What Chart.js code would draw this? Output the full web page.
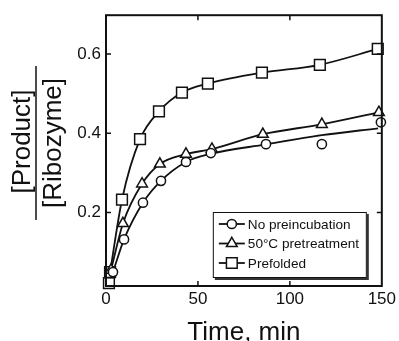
<!DOCTYPE html>
<html>
<head>
<meta charset="utf-8">
<script src="https://cdn.jsdelivr.net/npm/chart.js@4.4.0/dist/chart.umd.min.js"></script>
<style>
  html, body { margin: 0; padding: 0; background: #fff; }
  canvas { display: block; }
</style>
</head>
<body>
<canvas id="kineticsChart" width="399" height="341"></canvas>
<script>
const seriesNames = ['No preincubation', '50°C pretreatment', 'Prefolded'];

// No preincubation (circles) + its fitted curve
const noPreTime = [3.8, 9.8, 20.1, 29.9, 43.5, 57, 87, 117.4, 149.5];
const noPreValue = [0.05, 0.1325, 0.225, 0.28, 0.3275, 0.35, 0.3725, 0.3725, 0.4275];
const noPreFitTime = [3.8, 9.8, 20.1, 29.9, 43.5, 57, 87, 117.4, 148];
const noPreFitValue = [0.05, 0.1325, 0.225, 0.28, 0.3275, 0.348, 0.372, 0.395, 0.4125];

// 50°C pretreatment (triangles)
const heatTime = [2.7, 9.2, 19.6, 29.3, 43.5, 57.6, 85.3, 117.4, 148.4];
const heatValue = [0.055, 0.1725, 0.2725, 0.3225, 0.3475, 0.36, 0.3975, 0.4225, 0.4525];

// Prefolded (squares)
const foldTime = [1.6, 2.2, 8.7, 18.5, 28.8, 41.3, 55.4, 84.8, 116.3, 147.8];
const foldValue = [0.0225, 0.05, 0.2325, 0.385, 0.455, 0.5025, 0.525, 0.5525, 0.5725, 0.6125];

const xTicks = [0, 50, 100, 150];
const yTicks = [0.2, 0.4, 0.6];

const ink = '#111';
const fontFamily = "Arial, 'Liberation Sans', Helvetica, sans-serif";

function pts(xs, ys) {
    return xs.map((x, i) => ({ x: x, y: ys[i] }));
}

function markerSet(data, style, radius) {
    return {
        type: 'scatter',
        data: data,
        showLine: false,
        pointStyle: style,
        pointRadius: radius,
        pointBorderWidth: 1.5,
        pointBorderColor: ink,
        pointBackgroundColor: '#fff',
        clip: false,
        order: 1
    };
}

function curveSet(data) {
    return {
        type: 'line',
        data: data,
        borderColor: ink,
        borderWidth: 1.8,
        pointRadius: 0,
        fill: false,
        cubicInterpolationMode: 'monotone',
        clip: false,
        order: 2
    };
}

const markerStyles = ['circle', 'triangle', 'rect'];
const markerSizes = [4.6, 6.2, 7.6];

// draw one marker by hand (legend)
function drawMarker(ctx, style, x, y, r) {
    ctx.beginPath();
    if (style === 'circle') {
        ctx.arc(x, y, r, 0, Math.PI * 2);
    } else if (style === 'triangle') {
        for (let k = 0; k < 3; k++) {
            const a = k * 2 * Math.PI / 3;
            const px = x + Math.sin(a) * r, py = y - Math.cos(a) * r;
            if (k === 0) ctx.moveTo(px, py); else ctx.lineTo(px, py);
        }
        ctx.closePath();
    } else {
        const s = r * Math.SQRT1_2;
        ctx.rect(x - s, y - s, 2 * s, 2 * s);
    }
    ctx.fillStyle = '#fff';
    ctx.fill();
    ctx.lineWidth = 1.5;
    ctx.strokeStyle = ink;
    ctx.stroke();
}

const framePlugin = {
    id: 'frame',
    afterDraw(chart) {
        const ctx = chart.ctx;
        const a = chart.chartArea;
        const xs = chart.scales.x, ys = chart.scales.y;
        ctx.save();
        ctx.strokeStyle = ink;
        ctx.lineWidth = 2;
        ctx.strokeRect(a.left, a.top, a.right - a.left, a.bottom - a.top);
        ctx.lineWidth = 1.5;
        const len = 5;
        ctx.beginPath();
        xTicks.forEach(v => {
            const px = xs.getPixelForValue(v);
            if (px <= a.left + 2 || px >= a.right - 2) return;
            ctx.moveTo(px, a.bottom); ctx.lineTo(px, a.bottom - len);
            ctx.moveTo(px, a.top); ctx.lineTo(px, a.top + len);
        });
        yTicks.forEach(v => {
            const py = ys.getPixelForValue(v);
            ctx.moveTo(a.left, py); ctx.lineTo(a.left + len, py);
            ctx.moveTo(a.right, py); ctx.lineTo(a.right - len, py);
        });
        ctx.stroke();

        // legend box, bottom right inside the plot
        const bw = 154, bh = 66;
        const bx = a.right - 15 - bw, by = a.bottom - 8 - bh;
        ctx.fillStyle = '#333';
        ctx.fillRect(bx + 2, by + 2, bw, bh);
        ctx.fillStyle = '#fff';
        ctx.fillRect(bx, by, bw, bh);
        ctx.lineWidth = 1;
        ctx.strokeRect(bx + 0.5, by + 0.5, bw - 1, bh - 1);
        ctx.font = '13.6px ' + fontFamily;
        ctx.textBaseline = 'middle';
        ctx.textAlign = 'left';
        seriesNames.forEach((name, i) => {
            const ry = by + 12 + i * 19.5;
            ctx.beginPath();
            ctx.lineWidth = 1.8;
            ctx.moveTo(bx + 6, ry); ctx.lineTo(bx + 32, ry);
            ctx.stroke();
            drawMarker(ctx, markerStyles[i], bx + 19, ry, markerSizes[i]);
            ctx.fillStyle = ink;
            ctx.fillText(name, bx + 35, ry + 1);
        });

        // y title as a fraction
        const cx = 36, cy = 143;
        ctx.translate(cx, cy);
        ctx.rotate(-Math.PI / 2);
        ctx.fillStyle = ink;
        ctx.font = '26px ' + fontFamily;
        ctx.textAlign = 'center';
        ctx.textBaseline = 'alphabetic';
        ctx.fillText('[Product]', 1.5, -6);
        ctx.fillText('[Ribozyme]', 0, 25);
        ctx.beginPath();
        ctx.lineWidth = 1.5;
        ctx.moveTo(-77, 0); ctx.lineTo(77, 0);
        ctx.stroke();
        ctx.restore();
    }
};

const ctx = document.getElementById('kineticsChart').getContext('2d');
const kineticsChart = new Chart(ctx, {
    type: 'scatter',
    data: {
        datasets: [
            markerSet(pts(noPreTime, noPreValue), 'circle', markerSizes[0]),
            markerSet(pts(heatTime, heatValue), 'triangle', markerSizes[1]),
            markerSet(pts(foldTime, foldValue), 'rect', markerSizes[2]),
            curveSet(pts(noPreFitTime, noPreFitValue)),
            curveSet(pts(heatTime, heatValue)),
            curveSet(pts(foldTime.slice(1), foldValue.slice(1)))
        ]
    },
    options: {
        responsive: false,
        animation: false,
        layout: { padding: { top: 13, right: 16, left: 0, bottom: 0 } },
        plugins: {
            legend: { display: false },
            tooltip: { enabled: false }
        },
        scales: {
            x: {
                type: 'linear',
                min: 0,
                max: 150,
                afterBuildTicks: s => { s.ticks = xTicks.map(v => ({ value: v })); },
                afterFit: s => { s.height = 55; },
                grid: { display: false, drawTicks: false },
                border: { display: false },
                ticks: {
                    color: ink,
                    padding: 3,
                    maxRotation: 0,
                    font: { size: 17, family: fontFamily }
                },
                title: {
                    display: true,
                    text: 'Time, min',
                    color: ink,
                    padding: { top: 0, bottom: -5 },
                    font: { size: 26, family: fontFamily, lineHeight: 1 }
                }
            },
            y: {
                type: 'linear',
                min: 0.015,
                max: 0.6975,
                afterBuildTicks: s => { s.ticks = yTicks.map(v => ({ value: v })); },
                afterFit: s => { s.width = 106; },
                grid: { display: false, drawTicks: false },
                border: { display: false },
                ticks: {
                    color: ink,
                    padding: 5,
                    font: { size: 17, family: fontFamily },
                    callback: v => v.toFixed(1)
                }
            }
        }
    },
    plugins: [framePlugin]
});
</script>
</body>
</html>
